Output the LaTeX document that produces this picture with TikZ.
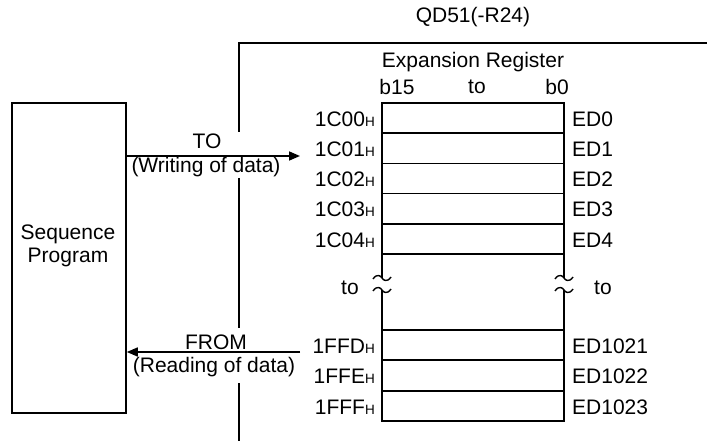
\documentclass[tikz,border=0pt]{standalone}
\usepackage{fontspec}
\setmainfont{Liberation Sans}
\usetikzlibrary{arrows.meta}
\newcommand{\hx}{{\fontsize{13.5}{13.5}\selectfont H}}
\begin{document}
\begin{tikzpicture}[x=1pt,y=-1pt,
  lbl/.style={inner sep=0pt,font=\fontsize{21}{24}\selectfont},
  adr/.style={lbl,anchor=east},
  edl/.style={lbl,anchor=west},
  ln/.style={line width=1.7pt},
  thinln/.style={line width=1.6pt},
  arr/.style={line width=1.6pt,-{Triangle[length=11pt,width=9pt]}},
  wave/.style={line width=1.4pt},
  cell/.style={draw,line width=1.7pt,minimum width=182pt,minimum height=#1,inner sep=0pt}]
\useasboundingbox (0,0) rectangle (707,441);
% module frame
\node[lbl] (qd) at (473,17) {QD51(-R24)};
\coordinate (fr) at (707,43);
\coordinate (fc) at (239,43);
\coordinate (v1) at (239,132);
\coordinate (v2) at (239,178);
\coordinate (v3) at (239,328);
\coordinate (v4) at (239,383);
\coordinate (v5) at (239,441);
\draw[thinln] (fr) -- (fc) -- (v1);
\draw[thinln] (v2) -- (v3);
\draw[thinln] (v4) -- (v5);
% sequence program
\node[draw,line width=1.6pt,minimum width=114pt,minimum height=310pt,inner sep=0pt] (seq) at (69,258) {};
\node[lbl,align=center] (seqt) at (68,246) {Sequence\\[-1pt]Program};
% register heading
\node[lbl] (er) at (473,62) {Expansion Register};
\node[lbl] (b15) at (397,87) {b15};
\node[lbl] (bto) at (477,87) {to};
\node[lbl] (b0) at (557,87) {b0};
% upper register rows (pitch 30.2)
\foreach \i/\a in {0/1C00,1/1C01,2/1C02,3/1C03,4/1C04}{
  \pgfmathsetmacro{\yc}{103+30.2*\i+15.1}
  \node[cell=30.2pt] (r\i) at (473,\yc) {};
  \node[adr] (a\i) at (375,\yc+1) {\a\hx};
  \node[edl] (e\i) at (572,\yc+1) {ED\i};
}
% lower register rows (pitch 30.33)
\foreach \i/\k/\a/\e in {5/0/1FFD/ED1021,6/1/1FFE/ED1022,7/2/1FFF/ED1023}{
  \pgfmathsetmacro{\yc}{330+30.33*\k+15.17}
  \node[cell=30.33pt] (r\i) at (473,\yc) {};
  \node[adr] (a\i) at (375,\yc+1) {\a\hx};
  \node[edl] (e\i) at (572,\yc+1) {\e};
}
% gap sides with break marks
\coordinate (gl1) at (382,254); \coordinate (gl2) at (382,278);
\coordinate (gl3) at (382,290); \coordinate (gl4) at (382,330);
\coordinate (gr1) at (564,254); \coordinate (gr2) at (564,278);
\coordinate (gr3) at (564,290); \coordinate (gr4) at (564,330);
\draw[ln] (gl1) -- (gl2) (gl3) -- (gl4);
\draw[ln] (gr1) -- (gr2) (gr3) -- (gr4);
\foreach \x in {382,564}{
  \foreach \y in {278,290}{
    \draw[wave] (\x-9,\y+1) .. controls (\x-5,\y-5) and (\x-1,\y-2) .. (\x,\y) .. controls (\x+1,\y+2) and (\x+5,\y+5) .. (\x+9,\y-1);
  }
}
\node[lbl] (tol) at (350,288) {to};
\node[lbl] (tor) at (603,288) {to};
% TO arrow
\coordinate (tip) at (300,156);
\draw[arr] (seq.east |- tip) -- (tip);
\node[lbl] (tot) at (207,141) {TO};
\node[lbl] (wr) at (206,167) {(Writing of data)};
% FROM arrow
\coordinate (fs) at (300,352);
\draw[arr] (fs) -- (seq.east |- fs);
\node[lbl] (frt) at (216,342) {FROM};
\node[lbl] (rd) at (214,367) {(Reading of data)};
\end{tikzpicture}
\end{document}
